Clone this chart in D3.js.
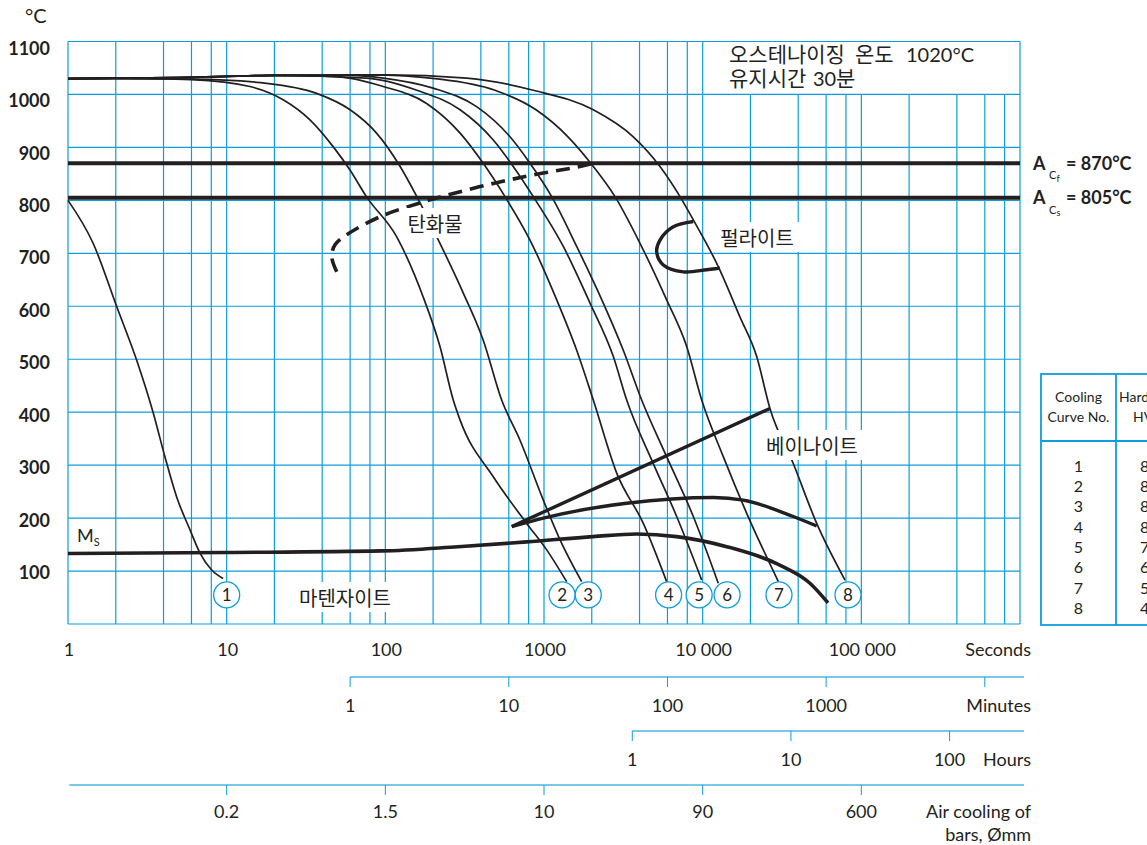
<!DOCTYPE html>
<html>
<head>
<meta charset="utf-8">
<script src="https://cdn.jsdelivr.net/npm/d3@7"></script>
<style>
  body { margin: 0; background: #fff; }
  svg { display: block; }
  text { font-family: Lato, "Noto Sans", sans-serif; fill: #231f20; }
  .kr { font-family: "Noto Sans CJK KR", "Noto Sans", sans-serif; }
</style>
</head>
<body>
<svg id="chart" width="1147" height="845"></svg>
<script>
// ---- axis ticks and labels ----
const tempTicks = [100, 200, 300, 400, 500, 600, 700, 800, 900, 1000, 1100];
const secondTicks = [1, 10, 100, 1000, 10000, 100000];
const secondLabels = ["1", "10", "100", "1000", "10 000", "100 000"];
const minuteTicks = [1, 10, 100, 1000, 10000];
const minuteLabels = ["1", "10", "100", "1000"];
const hourTicks = [1, 10, 100];
const hourLabels = ["1", "10", "100"];
const airTicksSec = [10, 100, 1000, 10000, 100000];
const airLabels = ["0.2", "1.5", "10", "90", "600"];

// ---- transformation temperatures ----
const acLevels = [870, 805];
const acNames = ["f", "s"];

// ---- cooling curves: [time s, temperature °C] ----
const curve1 = [[1,800],[1.44,719],[2.03,599],[2.71,498],[3.45,398],[4.08,316],[4.84,240],[5.87,178],[6.79,134],[8.05,102],[9.5,86]];
const curve2 = [[1,1030],[3,1030],[6,1028],[14,1015],[22.7,990],[33.5,952],[47,901],[60,857],[76,807],[118,731],[173,618],[221,524],[268,423],[296,385],[479,278],[778,190],[1040,140],[1390,80]];
const curve3 = [[1,1030],[6,1029],[17.9,1021],[36.9,1002],[60,971],[88,927],[124,864],[158,807],[216,725],[310,625],[414,536],[541,423],[706,347],[990,234],[1262,159],[1728,80]];
const curve4 = [[1,1030],[5,1032],[20,1036],[47,1034],[97,1015],[182,983],[296,927],[414,870],[568,807],[816,725],[1203,612],[1607,517],[2045,423],[2872,285],[4226,190],[5930,80]];
const curve5 = [[1,1030],[5,1032],[20,1036],[76,1031],[158,1008],[296,971],[479,914],[640,864],[856,807],[1323,713],[1950,606],[2735,505],[3320,423],[4885,303],[6860,203],[9860,83]];
const curve6 = [[1,1030],[5,1032],[20,1036],[60,1036],[97,1031],[200,1012],[376,977],[611,920],[816,870],[1118,807],[1607,713],[2364,606],[3160,517],[4126,423],[5930,316],[8730,203],[12540,77]];
const curve7 = [[1,1030],[5,1032],[20,1036],[80,1037],[221,1029],[491,1008],[891,971],[1416,920],[2045,864],[2802,807],[4027,719],[5930,612],[7930,524],[9860,423],[13490,316],[18950,209],[30000,80]];
const curve8 = [[1,1030],[5,1032],[20,1036],[100,1037],[326,1031],[856,1008],[2045,971],[3654,920],[5383,864],[7200,807],[8730,763],[12540,675],[17170,580],[21900,505],[26550,407],[37240,303],[52320,190],[78900,83]];
const coolingCurves = [curve1, curve2, curve3, curve4, curve5, curve6, curve7, curve8];

// end marker of each curve: time (s) of the numbered circle
const curveNos = [1, 2, 3, 4, 5, 6, 7, 8];
const markerTimes = [10, 1300, 1900, 6100, 9500, 14250, 30270, 82400];
const markerTemp = 55;

// ---- phase boundaries ----
const msLine = [[1,133],[10,135],[95,138],[287,146],[778,155],[2045,165],[3840,170],[6860,165],[14170,146],[29270,114],[47460,77],[61660,40]];
const bainiteUpper = [[626,184],[26550,407]];
const bainiteLower = [[626,184],[990,200],[3320,228],[11670,239],[18030,234],[37240,203],[52320,185]];
const carbideLine = [[49.4,665],[45.9,694],[48.2,716],[57.1,735],[92.5,769],[165,795],[268,813],[479,832],[856,848],[1686,864],[2045,870]];
const pearliteNose = [[8730,760],[6530,750],[5383,725],[5130,703],[5650,678],[7550,665],[10600,669],[12850,672]];

// ---- hardness table ----
const hardnessHV = [850, 840, 830, 810, 750, 650, 550, 450];

const BLUE = "#0c9edc", INK = "#231f20", PALE = "#78c8ea";
const svg = d3.select("#chart");

const x = d3.scaleLog().domain([1, 1e6]).range([68, 1020]);
const y = d3.scaleLinear().domain([0, 1100]).range([624, 41.5]);

// ---- grid ----
const gridTimes = [];
for (let e = 0; e < 6; e++) for (const m of [1, 2, 4, 6, 8]) gridTimes.push(m * Math.pow(10, e));
gridTimes.push(1e6);

const grid = svg.append("g");
grid.selectAll("line.v").data(gridTimes).join("line")
  .attr("class", "v")
  .attr("x1", d => x(d)).attr("x2", d => x(d))
  .attr("y1", d => (d > 1e4 && d < 1e6) ? y(1000) : y(1100))
  .attr("y2", y(0))
  .attr("stroke", BLUE).attr("stroke-width", 1.2);
grid.selectAll("line.h").data([0].concat(tempTicks)).join("line")
  .attr("class", "h")
  .attr("x1", x(1)).attr("x2", x(1e6))
  .attr("y1", d => y(d)).attr("y2", d => y(d))
  .attr("stroke", BLUE).attr("stroke-width", 1.2);

// ---- temperature axis ----
svg.append("g").selectAll("text").data(tempTicks).join("text")
  .attr("x", 50).attr("y", d => y(d) + 1.5 + (d - 100) * 0.0053)
  .attr("dy", "0.36em").attr("text-anchor", "end")
  .attr("font-size", 18).attr("font-weight", 700)
  .text(d => d);
svg.append("text").attr("x", 25).attr("y", 23).attr("font-size", 20).text("°C");

// ---- lines ----
const path = (pts, curve) => {
  const l = d3.line().x(p => x(p[0])).y(p => y(p[1]));
  return (curve ? l.curve(curve) : l)(pts);
};
const marks = svg.append("g").attr("fill", "none").attr("stroke", INK);

marks.selectAll("path.cool").data(coolingCurves).join("path")
  .attr("class", "cool")
  .attr("d", d => path(d, d3.curveMonotoneX))
  .attr("stroke-width", 1.7);

marks.selectAll("line.ac").data(acLevels).join("line")
  .attr("class", "ac")
  .attr("x1", x(1)).attr("x2", x(1e6))
  .attr("y1", d => y(d)).attr("y2", d => y(d))
  .attr("stroke-width", 4);

marks.append("path").attr("d", path(msLine, d3.curveMonotoneX)).attr("stroke-width", 3.6);
marks.append("path").attr("d", path(bainiteUpper)).attr("stroke-width", 3.4);
marks.append("path").attr("d", path(bainiteLower, d3.curveMonotoneX)).attr("stroke-width", 3.4);
marks.append("path").attr("d", path(carbideLine, d3.curveCatmullRom.alpha(0.5)))
  .attr("stroke-width", 3.6).attr("stroke-dasharray", "14,8");
marks.append("path").attr("d", path(pearliteNose, d3.curveCatmullRom.alpha(0.5)))
  .attr("stroke-width", 3.4);

// ---- phase labels with white backing ----
const phaseLabels = [
  { text: "탄화물", cx: 435, base: 232, w: 66 },
  { text: "펄라이트", cx: 757, base: 246, w: 86 },
  { text: "베이나이트", cx: 812, base: 454, w: 108 },
  { text: "마텐자이트", cx: 345, base: 606, w: 108 }
];
const pl = svg.append("g");
pl.selectAll("rect").data(phaseLabels).join("rect")
  .attr("x", d => d.cx - d.w / 2).attr("y", d => d.base - 24)
  .attr("width", d => d.w).attr("height", 30).attr("fill", "#fff");
pl.selectAll("text").data(phaseLabels).join("text")
  .attr("class", "kr").attr("x", d => d.cx).attr("y", d => d.base)
  .attr("text-anchor", "middle").attr("font-size", 20)
  .text(d => d.text);

// Ms label
const ms = svg.append("text").attr("x", 77).attr("y", 542).attr("font-size", 18);
ms.append("tspan").text("M");
ms.append("tspan").attr("font-size", 11).attr("dy", 4).text("S");

// ---- austenitizing note ----
const note = svg.append("g");
note.append("text").attr("class", "kr").attr("x", 729).attr("y", 62).attr("font-size", 21).text("오스테나이징");
note.append("text").attr("class", "kr").attr("x", 855).attr("y", 62).attr("font-size", 21).text("온도");
note.append("text").attr("x", 906).attr("y", 62).attr("font-size", 20).text("1020°C");
note.append("text").attr("class", "kr").attr("x", 729).attr("y", 86).attr("font-size", 21).text("유지시간");
note.append("text").attr("x", 813).attr("y", 86).attr("font-size", 20).text("30");
note.append("text").attr("class", "kr").attr("x", 836).attr("y", 86).attr("font-size", 21).text("분");

// ---- Ac labels ----
const acg = svg.append("g").attr("font-weight", 700);
acLevels.forEach((lv, i) => {
  const base = y(lv) + 6.5;
  acg.append("text").attr("x", 1033).attr("y", base).attr("font-size", 18).text("A");
  acg.append("text").attr("x", 1049).attr("y", base + 9.5).attr("font-size", 11).attr("font-weight", 400).text("C");
  acg.append("text").attr("x", 1056.5).attr("y", base + 12).attr("font-size", 9).attr("font-weight", 400).text(acNames[i]);
  acg.append("text").attr("x", 1066).attr("y", base).attr("font-size", 18).text("= " + lv + "°C");
});

// ---- curve number markers ----
const mk = svg.append("g");
mk.selectAll("circle").data(markerTimes).join("circle")
  .attr("cx", d => x(d)).attr("cy", y(markerTemp)).attr("r", 13)
  .attr("fill", "#fff").attr("stroke", BLUE).attr("stroke-width", 1.3);
mk.selectAll("text").data(markerTimes).join("text")
  .attr("x", d => x(d)).attr("y", y(markerTemp)).attr("dy", "0.36em")
  .attr("text-anchor", "middle").attr("font-size", 17)
  .text((d, i) => curveNos[i]);

// ---- seconds axis ----
const ax = svg.append("g").attr("font-size", 18);
ax.selectAll("text.s").data(secondTicks).join("text")
  .attr("class", "s").attr("x", d => x(d) + 1).attr("y", 656)
  .attr("text-anchor", "middle").text((d, i) => secondLabels[i]);
ax.append("text").attr("x", 1031).attr("y", 656).attr("text-anchor", "end").text("Seconds");

// secondary time scales
function scaleRow(factor, ticks, labels, lineY, labelY, unit, startSec) {
  const g = svg.append("g");
  g.append("line").attr("x1", x(startSec)).attr("x2", 1024)
    .attr("y1", lineY).attr("y2", lineY).attr("stroke", PALE).attr("stroke-width", 2);
  g.selectAll("line.t").data(ticks).join("line").attr("class", "t")
    .attr("x1", d => x(d * factor)).attr("x2", d => x(d * factor))
    .attr("y1", lineY).attr("y2", lineY + 10)
    .attr("stroke", BLUE).attr("stroke-width", 1);
  g.selectAll("text.l").data(labels).join("text").attr("class", "l")
    .attr("x", (d, i) => x(ticks[i] * factor)).attr("y", labelY)
    .attr("text-anchor", "middle").attr("font-size", 18).text(d => d);
  unit.forEach((u, k) => g.append("text").attr("x", 1031).attr("y", labelY + k * 23)
    .attr("text-anchor", "end").attr("font-size", 18).text(u));
}
scaleRow(60, minuteTicks, minuteLabels, 677, 712, ["Minutes"], 60);
scaleRow(3600, hourTicks, hourLabels, 731, 766, ["Hours"], 3600);
scaleRow(1, airTicksSec, airLabels, 785, 818, ["Air cooling of", "bars, Ømm"], 1.02);

// ---- hardness table ----
const tb = svg.append("g");
tb.append("rect").attr("x", 1041).attr("y", 374).attr("width", 200).attr("height", 251)
  .attr("fill", "#fff").attr("stroke", BLUE).attr("stroke-width", 1.8);
tb.append("line").attr("x1", 1116).attr("x2", 1116).attr("y1", 374).attr("y2", 625)
  .attr("stroke", BLUE).attr("stroke-width", 1.8);
tb.append("line").attr("x1", 1041).attr("x2", 1241).attr("y1", 441).attr("y2", 441)
  .attr("stroke", BLUE).attr("stroke-width", 1.8);
tb.append("text").attr("x", 1078.5).attr("y", 402).attr("text-anchor", "middle").attr("font-size", 14).text("Cooling");
tb.append("text").attr("x", 1078.5).attr("y", 422).attr("text-anchor", "middle").attr("font-size", 14).text("Curve No.");
tb.append("text").attr("x", 1119).attr("y", 402).attr("font-size", 14).text("Hardness");
tb.append("text").attr("x", 1133).attr("y", 422).attr("font-size", 14).text("HV");
tb.selectAll("text.n").data(curveNos).join("text").attr("class", "n")
  .attr("x", 1078.5).attr("y", (d, i) => 471.7 + i * 20.35)
  .attr("text-anchor", "middle").attr("font-size", 16).text(d => d);
tb.selectAll("text.hv").data(hardnessHV).join("text").attr("class", "hv")
  .attr("x", 1140).attr("y", (d, i) => 471.7 + i * 20.35)
  .attr("font-size", 16).text(d => d);
</script>
</body>
</html>
